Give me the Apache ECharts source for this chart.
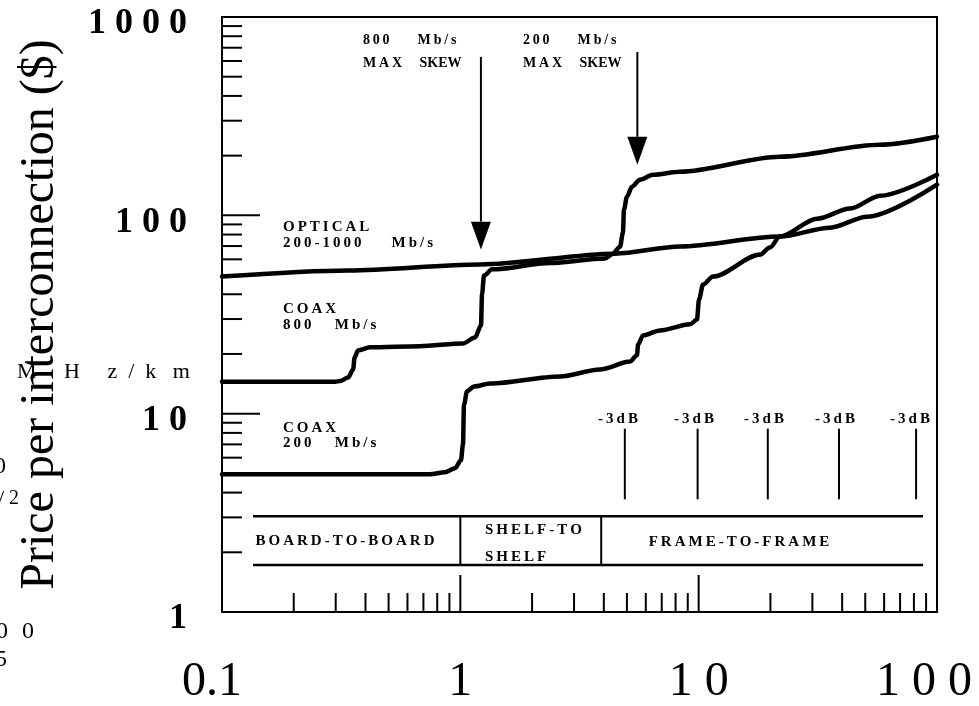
<!DOCTYPE html>
<html><head><meta charset="utf-8">
<script src="https://cdn.jsdelivr.net/npm/echarts@6/dist/echarts.min.js"></script>
<style>html,body{margin:0;padding:0;background:#fff}#c{width:979px;height:706px}</style>
</head><body><div id="c"></div>
<script>
// ---- data ----
const xTickLabels = ['0.1', '1', '10', '100'];
const yTickLabels = ['1', '10', '100', '1000'];
const optical = [[0.1,49.1],[0.34,52.7],[1.21,56.5],[4.46,64.1],[8.35,69.6],[21.9,78.1],[35.6,86.7],[50.8,98.5],[100,142.7]];
const coax800 = [[0.1,14.5],[0.298,14.5],[0.313,14.6],[0.338,15.2],[0.355,16.7],[0.36,19.2],[0.372,20.8],[0.418,21.6],[0.677,21.9],[1.026,22.6],[1.152,24.2],[1.221,27.8],[1.233,39.9],[1.257,49.7],[1.359,53.4],[2.38,57.5],[4.05,60.6],[4.37,64.1],[4.68,69.5],[4.81,81.8],[4.86,106.8],[5.0,124.2],[5.25,139.4],[5.67,151.2],[6.43,160.2],[8.35,165.9],[21.9,197.4],[57.7,226.9],[100,248.9]];
const coax200 = [[0.1,4.95],[0.746,4.95],[0.862,5.07],[0.95,5.31],[1.006,5.82],[1.026,7.01],[1.036,11.1],[1.067,12.96],[1.141,13.7],[1.332,14.2],[2.62,15.4],[3.85,16.7],[5.15,18.3],[5.51,19.7],[5.57,22.3],[5.84,24.8],[6.88,26.3],[9.2,28.2],[9.84,29.8],[10.03,37.6],[10.43,44.8],[11.49,49.1],[18.09,63.4],[19.9,68.8],[21.9,78.1],[31.4,96.2],[43.2,108.1],[57.7,125.6],[100,160.2]];
const xMinorTicks = [0.2,0.3,0.4,0.5,0.6,0.7,0.8,0.9,2,3,4,5,6,7,8,9,20,30,40,50,60,70,80,90];
const xMajorTicks = [1, 10];
const yMinorTicks = [2,3,4,5,6,7,8,9,20,30,40,50,60,70,80,90,200,300,400,500,600,700,800,900];
const yMajorTicks = [10, 100];
const dBMarks = [4.9, 9.9, 19.5, 38.8, 81.7];
const dBSpan = [3.7, 8.4];
const arrowX = [1.22, 5.53];
const arrowTop = [629, 666];
const arrowHead = [92.9, 248.9];
const arrowTip = [67.2, 179.9];
const bandX = [0.135, 87.4];
const bandY = [1.725, 3.04];
const bandDividers = [1.0, 3.9];

// ---- chart ----
const chart = echarts.init(document.getElementById('c'), null, {renderer: 'canvas'});
const SERIF = "'Liberation Serif','Times New Roman',serif";
const BLACK = '#000';
const spaced = s => s.split('').join('\u2009');

function lineEl(a, b, w) {
  return {type: 'line', shape: {x1: a[0], y1: a[1], x2: b[0], y2: b[1]}, style: {stroke: BLACK, lineWidth: w}};
}

const curveStyle = {color: BLACK, width: 4.5, join: 'round', cap: 'round'};
function curve(name, data) {
  return {type: 'line', name, data, showSymbol: false, smooth: 0.3, smoothMonotone: 'x',
    lineStyle: curveStyle, itemStyle: {color: BLACK}, z: 5, silent: true};
}

function textEl(x, y, text, size, align) {
  return {type: 'text', x, y, style: {text, font: 'bold ' + size + 'px ' + SERIF, fill: BLACK,
    align: align || 'left', verticalAlign: 'middle'}};
}
function boldText(x, y, text, size, align) {
  return textEl(x, y, spaced(text), size, align);
}
function plainText(x, y, text, size) {
  return {type: 'text', x, y, style: {text, font: size + 'px ' + SERIF, fill: BLACK,
    align: 'left', verticalAlign: 'middle'}};
}

const option = {
  backgroundColor: '#fff',
  animation: false,
  grid: {left: 222, top: 17, width: 715, height: 596, show: true, borderColor: BLACK, borderWidth: 2,
    backgroundColor: 'transparent'},
  xAxis: {
    type: 'log', logBase: 10, min: 0.1, max: 100,
    axisLine: {show: false}, axisTick: {show: false}, splitLine: {show: false}, minorTick: {show: false},
    axisLabel: {fontFamily: SERIF, fontSize: 48, color: BLACK, margin: 46,
      formatter: v => {
        const i = Math.round(Math.log10(v)) + 1;
        const t = xTickLabels[i].length > 1 && xTickLabels[i].indexOf('.') < 0 ? xTickLabels[i].split('').join(' ') : xTickLabels[i];
        if (i === 0) return '{first|' + t + '}';
        if (i === 3) return '{last|' + t + '}';
        return t;
      },
      rich: {
        first: {fontFamily: SERIF, fontSize: 48, color: BLACK, padding: [0, 20, 0, 0]},
        last: {fontFamily: SERIF, fontSize: 48, color: BLACK, padding: [0, 26, 0, 0]}
      }}
  },
  yAxis: {
    type: 'log', logBase: 10, min: 1, max: 1000,
    axisLine: {show: false}, axisTick: {show: false}, splitLine: {show: false}, minorTick: {show: false},
    axisLabel: {fontFamily: SERIF, fontWeight: 'bold', fontSize: 36, color: BLACK, margin: 35,
      formatter: v => '{n|' + yTickLabels[Math.round(Math.log10(v))].split('').join(' ') + '}',
      rich: {n: {fontFamily: SERIF, fontWeight: 'bold', fontSize: 36, color: BLACK, padding: [14, 0, 0, 0]}}},
    name: 'Price per interconnection ($)', nameLocation: 'middle', nameGap: 158,
    nameTextStyle: {fontFamily: SERIF, fontSize: 48, color: BLACK}
  },
  series: [
    curve('OPTICAL 200-1000 Mb/s', optical),
    curve('COAX 800 Mb/s', coax800),
    curve('COAX 200 Mb/s', coax200),
    {type: 'custom', name: 'yMinorTicks', coordinateSystem: 'cartesian2d', silent: true,
      data: yMinorTicks.map(v => [0.1, v]),
      renderItem: (p, api) => { const a = api.coord([api.value(0), api.value(1)]); return lineEl(a, [a[0] + 20, a[1]], 2); }},
    {type: 'custom', name: 'yMajorTicks', coordinateSystem: 'cartesian2d', silent: true,
      data: yMajorTicks.map(v => [0.1, v]),
      renderItem: (p, api) => { const a = api.coord([api.value(0), api.value(1)]); return lineEl(a, [a[0] + 38, a[1]], 2); }},
    {type: 'custom', name: 'xMinorTicks', coordinateSystem: 'cartesian2d', silent: true,
      data: xMinorTicks.map(v => [v, 1]),
      renderItem: (p, api) => { const a = api.coord([api.value(0), api.value(1)]); return lineEl(a, [a[0], a[1] - 19], 2); }},
    {type: 'custom', name: 'xMajorTicks', coordinateSystem: 'cartesian2d', silent: true,
      data: xMajorTicks.map(v => [v, 1]),
      renderItem: (p, api) => { const a = api.coord([api.value(0), api.value(1)]); return lineEl(a, [a[0], a[1] - 37], 2); }},
    {type: 'custom', name: '-3dB', coordinateSystem: 'cartesian2d', silent: true,
      data: dBMarks.map(v => [v, dBSpan[0], dBSpan[1]]), encode: {x: 0, y: [1, 2]},
      renderItem: (p, api) => lineEl(api.coord([api.value(0), api.value(1)]), api.coord([api.value(0), api.value(2)]), 2)},
    {type: 'custom', name: 'skew arrows', coordinateSystem: 'cartesian2d', silent: true,
      data: arrowX.map((x, i) => [x, arrowTop[i], arrowHead[i], arrowTip[i]]), encode: {x: 0, y: [1, 2, 3]},
      renderItem: (p, api) => {
        const x = api.value(0);
        const t = api.coord([x, api.value(1)]), h = api.coord([x, api.value(2)]), tip = api.coord([x, api.value(3)]);
        return {type: 'group', children: [
          lineEl(t, h, 2),
          {type: 'polygon', shape: {points: [[h[0] - 10, h[1]], [h[0] + 10, h[1]], tip]}, style: {fill: BLACK}}
        ]};
      }},
    {type: 'custom', name: 'distance bands', coordinateSystem: 'cartesian2d', silent: true,
      data: [[bandX[0], bandY[0], bandX[1], bandY[1], bandDividers[0], bandDividers[1]]],
      encode: {x: [0, 2, 4, 5], y: [1, 3]},
      renderItem: (p, api) => {
        const x0 = api.value(0), y0 = api.value(1), x1 = api.value(2), y1 = api.value(3);
        const kids = [
          lineEl(api.coord([x0, y0]), api.coord([x1, y0]), 2.5),
          lineEl(api.coord([x0, y1]), api.coord([x1, y1]), 2.5),
          lineEl(api.coord([api.value(4), y0]), api.coord([api.value(4), y1]), 2),
          lineEl(api.coord([api.value(5), y0]), api.coord([api.value(5), y1]), 2)
        ];
        return {type: 'group', children: kids};
      }}
  ],
  graphic: [
    boldText(363, 40, '800    Mb/s', 14),
    textEl(363, 63, spaced('MAX') + '     SKEW', 14),
    boldText(523, 40, '200    Mb/s', 14),
    textEl(523, 63, spaced('MAX') + '     SKEW', 14),
    boldText(283, 227, 'OPTICAL', 15),
    boldText(283, 243, '200-1000    Mb/s', 15),
    boldText(283, 309, 'COAX', 15),
    boldText(283, 325, '800   Mb/s', 15),
    boldText(283, 428, 'COAX', 15),
    boldText(283, 443, '200   Mb/s', 15),
    boldText(618, 419, '-3dB', 15, 'center'),
    boldText(694, 419, '-3dB', 15, 'center'),
    boldText(764, 419, '-3dB', 15, 'center'),
    boldText(835, 419, '-3dB', 15, 'center'),
    boldText(910, 419, '-3dB', 15, 'center'),
    boldText(345, 541, 'BOARD-TO-BOARD', 15, 'center'),
    boldText(485, 530, 'SHELF-TO', 15),
    boldText(485, 557, 'SHELF', 15),
    boldText(739, 542, 'FRAME-TO-FRAME', 15, 'center'),
    plainText(17, 372, 'M     H     z  /  k   m', 22),
    plainText(-6, 467, '0', 24),
    plainText(-2, 499, '/', 22),
    plainText(9, 499, '2', 20),
    plainText(-4, 632, '0', 24),
    plainText(22, 632, '0', 24),
    plainText(-5, 660, '5', 24)
  ]
};
chart.setOption(option);
</script>
</body></html>
